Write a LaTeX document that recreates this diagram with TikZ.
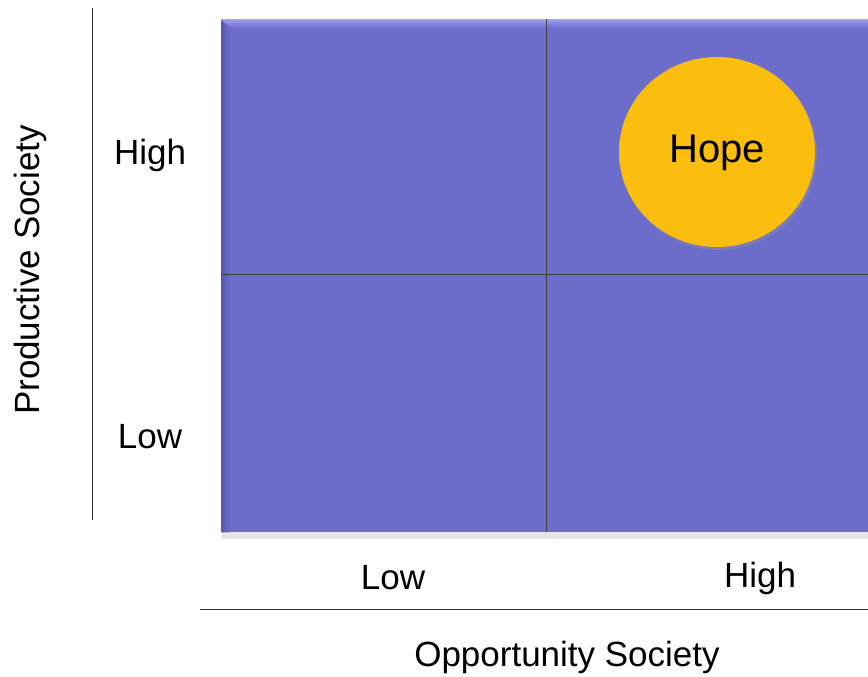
\documentclass[tikz,border=0pt]{standalone}
\usepackage{fontspec}
\setmainfont{Liberation Sans}
\definecolor{quad}{HTML}{6C6CCB}
\definecolor{quadlight}{HTML}{9A9AF0}
\definecolor{quaddark}{HTML}{5656B0}
\definecolor{hopefill}{HTML}{FBBE0E}
\definecolor{hopedark}{HTML}{E5A400}
\pgfdeclareradialshading{hoperim}{\pgfpoint{0bp}{0bp}}{color(0bp)=(hopefill); color(43bp)=(hopefill); color(48bp)=(hopedark); color(50bp)=(hopedark!85!black)}
\tikzset{
  lbl/.style={font=\fontsize{35}{40}\selectfont, text=black, inner sep=0pt},
  axisline/.style={draw=black!80, line width=1pt},
  divline/.style={draw=black!75, line width=0.8pt},
}
\begin{document}
\begin{tikzpicture}[x=1pt,y=-1pt]
\useasboundingbox (0,0) rectangle (868,677);
% shadow of matrix
\fill[black!22] (224,24) rectangle (874,537);
\fill[black!10] (222,22) rectangle (874,539);
% matrix
\node[fill=quad, minimum width=653pt, minimum height=513pt, inner sep=0pt, anchor=north west] (grid) at (221,19) {};
% bevel highlight top, dark left
\shade[top color=quadlight, bottom color=quad] ([yshift=-1pt]grid.north west) rectangle ([xshift=653pt,yshift=-9pt]grid.north west);
\shade[left color=quaddark, right color=quad] ([yshift=-1pt]grid.north west) -- ([xshift=9pt,yshift=-9pt]grid.north west) -- ([xshift=9pt]grid.south west) -- (grid.south west) -- cycle;
% dividers
\coordinate (vtop) at (546,19);
\coordinate (vbot) at (546,532);
\coordinate (hleft) at (221,274);
\coordinate (hright) at (868,274);
\draw[divline] (vtop) -- (vbot);
\draw[divline] (hleft) -- (hright);
% hope circle
\fill[black!40, opacity=0.35] (719,155) ellipse (98pt and 95pt);
\shade[shading=hoperim] (717,152) ellipse (98pt and 95pt);
\node[lbl, font=\fontsize{40}{44}\selectfont] (hope) at (717,153) {Hope};
% axes
\coordinate (ytop) at (92,8);
\coordinate (ybot) at (92,520);
\coordinate (xl) at (200,609);
\coordinate (xr) at (868,609);
\draw[axisline] (ytop) -- (ybot);
\draw[axisline] (xl) -- (xr);
% labels
\node[lbl] (yhigh) at (150,155) {High};
\node[lbl] (ylow) at (150,437) {Low};
\node[lbl] (xlow) at (393,578) {Low};
\node[lbl] (xhigh) at (760,578) {High};
\node[lbl] (xtitle) at (567,657) {Opportunity Society};
\node[lbl, rotate=90] (ytitle) at (30,270) {Productive Society};
\end{tikzpicture}
\end{document}
